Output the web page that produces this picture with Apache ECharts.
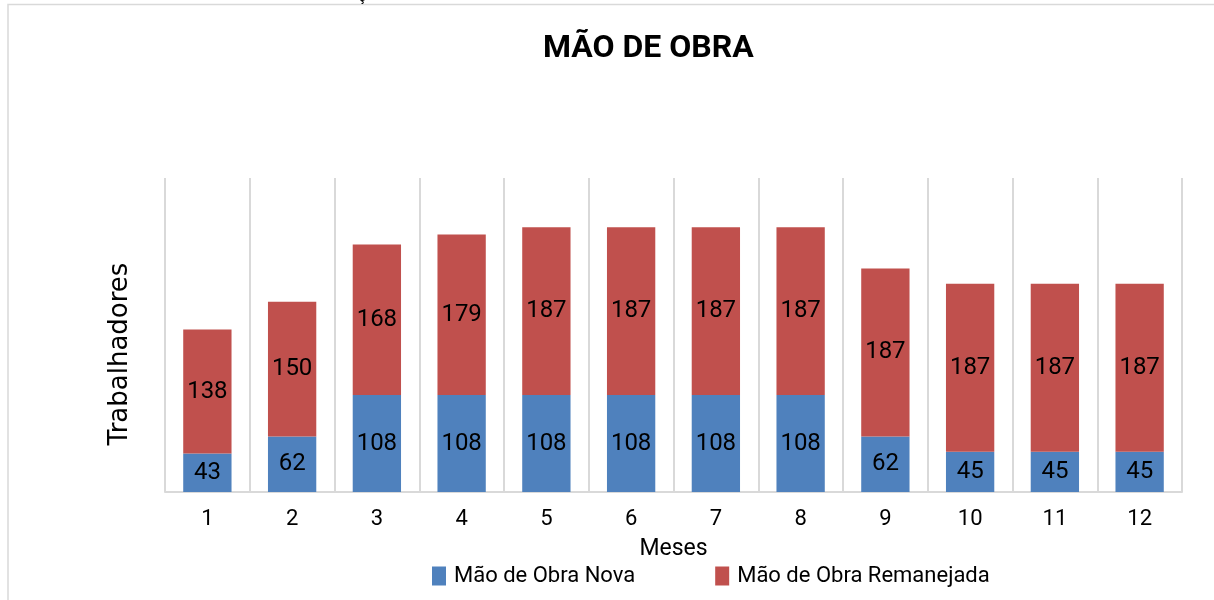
<!DOCTYPE html>
<html><head><meta charset="utf-8">
<script src="https://cdn.jsdelivr.net/npm/echarts@6/dist/echarts.min.js"></script>
<style>html,body{margin:0;padding:0;background:#fff}#c{width:1214px;height:600px}</style>
</head><body><div id="c"></div>
<script>
const months = ['1','2','3','4','5','6','7','8','9','10','11','12'];
const novaValues = [43, 62, 108, 108, 108, 108, 108, 108, 62, 45, 45, 45];
const remanejadaValues = [138, 150, 168, 179, 187, 187, 187, 187, 187, 187, 187, 187];
const seriesNames = ['Mão de Obra Nova', 'Mão de Obra Remanejada'];
const titleText = 'MÃO DE OBRA';
const yName = 'Trabalhadores';
const xName = 'Meses';

const narrow = "Roboto,sans-serif";
const chart = echarts.init(document.getElementById('c'));
const labelStyle = {show: true, position: 'inside', color: '#000', fontSize: 24, fontFamily: narrow};
chart.setOption({
  animation: false,
  backgroundColor: '#fff',
  title: {text: titleText, left: 538, top: 28,
    textStyle: {fontFamily: "Roboto,sans-serif", fontWeight: 'bold', fontSize: 32, color: '#000'}},
  graphic: [
    {type: 'polyline', shape: {points: [[8, 600], [8, 4.5], [1214, 4.5]]}, style: {stroke: '#d9d9d9', lineWidth: 1.5, fill: null}},
    {type: 'text', x: 358, y: -11, style: {text: 'ç', fontSize: 16, fill: '#000', fontFamily: narrow}},
    {type: 'text', x: 120, y: 354, rotation: Math.PI / 2,
      style: {text: yName, fontSize: 26, fill: '#000', fontFamily: "'DejaVu Sans',sans-serif", align: 'center', verticalAlign: 'middle'}}
  ],
  legend: {bottom: 8, left: 427, itemWidth: 14, itemHeight: 19, itemGap: 80, icon: 'rect',
    textStyle: {fontSize: 22, fontFamily: narrow, color: '#000', padding: [0, 0, 0, 3]}},
  grid: {left: 165, right: 32, top: 178, bottom: 108},
  xAxis: {type: 'category', data: months,
    name: xName, nameLocation: 'middle', nameGap: 46,
    nameTextStyle: {fontSize: 23, fontFamily: narrow, color: '#000'},
    axisLine: {show: true, lineStyle: {color: '#d9d9d9', width: 2}},
    axisTick: {show: false},
    axisLabel: {fontSize: 22, fontFamily: narrow, color: '#000', margin: 16},
    splitLine: {show: true, interval: 0, lineStyle: {color: '#d9d9d9', width: 2}}
  },
  yAxis: {type: 'value', min: 0, max: 350, interval: 50,
    axisLine: {show: false}, axisTick: {show: false}, axisLabel: {show: false},
    splitLine: {show: false}
  },
  series: [
    {name: seriesNames[0], type: 'bar', stack: 't', data: novaValues, barWidth: '57%',
      itemStyle: {color: '#4f81bd'}, label: labelStyle},
    {name: seriesNames[1], type: 'bar', stack: 't', data: remanejadaValues, barWidth: '57%',
      itemStyle: {color: '#c0504d'}, label: labelStyle}
  ]
});
</script></body></html>
